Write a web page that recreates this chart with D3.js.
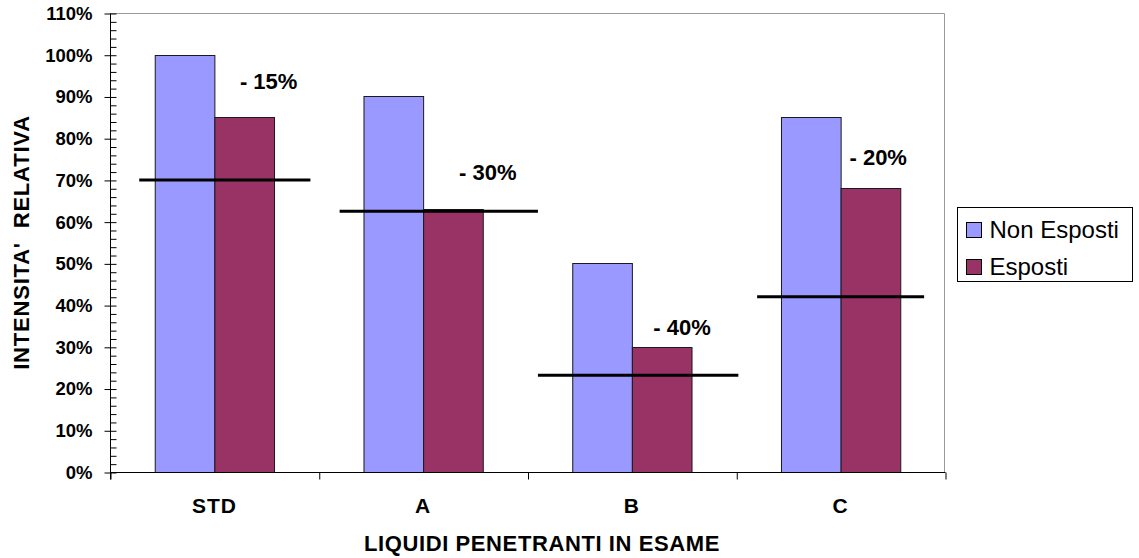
<!DOCTYPE html>
<html>
<head>
<meta charset="utf-8">
<script src="https://cdn.jsdelivr.net/npm/d3@7"></script>
<style>
  html, body { margin: 0; padding: 0; background: #fff; }
  svg { display: block; font-family: "Liberation Sans", Arial, sans-serif; }
</style>
</head>
<body>
<svg id="chart" width="1139" height="558"></svg>
<script>
// Liquidi penetranti: intensità relativa prima e dopo l'esposizione
const categories = ["STD", "A", "B", "C"];
const seriesNames = ["Non Esposti", "Esposti"];
const nonEsposti = [100, 90, 50, 85];
const esposti = [85, 63, 30, 68];
// soglie orizzontali per ciascun liquido (% intensità)
const soglie = [70, 62.5, 23.2, 42];
// estensione delle soglie, in frazioni della categoria
const sogliaInizio = [0.14, 0.10, 0.05, 0.10];
const sogliaFine = [0.96, 1.05, 1.01, 0.90];
// riduzioni percentuali annotate
const riduzioni = ["- 15%", "- 30%", "- 40%", "- 20%"];
const notaX = [0.76, 0.81, 0.74, 0.68];   // frazione della categoria
const notaY = [91.8, 70, 32.8, 73.6];     // livello in %
const yTicks = d3.range(0, 111, 10);
const yMinorTicks = d3.range(0, 111, 2);
const colors = ["#9999FF", "#993366"];

const svg = d3.select("#chart");
const plot = { left: 110, right: 945, top: 13, bottom: 472 };

const x = d3.scaleBand().domain(categories).range([plot.left, plot.right]);
const xSub = d3.scaleBand().domain(seriesNames).range([0, x.bandwidth()])
  .paddingInner(0).paddingOuter(0.75);
const xIdx = d3.scaleLinear().domain([0, categories.length]).range([plot.left, plot.right]);
const y = d3.scaleLinear().domain([0, 110]).range([plot.bottom, plot.top]);

// bordo dell'area del grafico (alto e destra)
svg.append("path")
  .attr("d", `M${plot.left},${plot.top + 0.5}H${plot.right - 0.5}V${plot.bottom}`)
  .attr("fill", "none").attr("stroke", "#999").attr("stroke-width", 1);

// barre
const data = categories.map((c, i) => ({ cat: c, vals: [nonEsposti[i], esposti[i]] }));
const groups = svg.append("g").selectAll("g").data(data).join("g")
  .attr("transform", d => `translate(${x(d.cat)},0)`);
groups.selectAll("rect")
  .data(d => d.vals.map((v, k) => ({ s: seriesNames[k], v, k })))
  .join("rect")
  .attr("x", d => xSub(d.s) + 0.5)
  .attr("y", d => Math.round(y(d.v)) + 0.5)
  .attr("width", xSub.bandwidth())
  .attr("height", d => Math.round(y(0)) - Math.round(y(d.v)))
  .attr("fill", d => colors[d.k])
  .attr("stroke", "#1a1a1a").attr("stroke-width", 1);

// asse Y: tacche secondarie (interne) e principali (incrociate)
svg.append("g").attr("transform", `translate(${plot.left + 0.5},0.5)`)
  .call(d3.axisLeft(y).tickValues(yMinorTicks).tickSize(-6).tickFormat(""))
  .call(g => g.select(".domain").remove())
  .call(g => g.selectAll("line").attr("stroke", "#000"));
svg.append("g").attr("transform", `translate(${plot.left + 0.5},0.5)`)
  .call(d3.axisLeft(y).tickValues(yTicks).tickSize(6).tickPadding(12).tickFormat(d => d + "%"))
  .call(g => g.select(".domain").attr("d", `M0,${plot.top}V${plot.bottom + 7}`).attr("stroke", "#000"))
  .call(g => g.selectAll("line").attr("stroke", "#000"))
  .call(g => g.selectAll("text")
    .attr("font-size", 18.5).attr("font-weight", "bold").attr("fill", "#000")
    .attr("font-family", "Liberation Sans, Arial, sans-serif"));

// asse X
svg.append("g").attr("transform", `translate(0.5,${plot.bottom + 0.5})`)
  .call(d3.axisBottom(xIdx).tickValues(d3.range(0, categories.length + 1)).tickSize(7).tickFormat(""))
  .call(g => g.select(".domain").attr("d", `M${plot.left},0H${plot.right}`).attr("stroke", "#000"))
  .call(g => g.selectAll("line").attr("stroke", "#000"));

svg.append("g").selectAll("text").data(categories).join("text")
  .attr("x", d => x(d) + x.bandwidth() / 2)
  .attr("y", 513)
  .attr("text-anchor", "middle")
  .attr("font-size", 21).attr("font-weight", "bold")
  .attr("letter-spacing", 1)
  .text(d => d);

// soglie orizzontali
svg.append("g").selectAll("line").data(soglie).join("line")
  .attr("x1", (d, i) => x(categories[i]) + sogliaInizio[i] * x.bandwidth())
  .attr("x2", (d, i) => x(categories[i]) + sogliaFine[i] * x.bandwidth())
  .attr("y1", d => y(d)).attr("y2", d => y(d))
  .attr("stroke", "#000").attr("stroke-width", 3);

// annotazioni delle riduzioni
svg.append("g").selectAll("text").data(riduzioni).join("text")
  .attr("x", (d, i) => x(categories[i]) + notaX[i] * x.bandwidth())
  .attr("y", (d, i) => y(notaY[i]))
  .attr("text-anchor", "middle")
  .attr("font-size", 22).attr("font-weight", "bold")
  .text(d => d);

// titoli degli assi
svg.append("text")
  .attr("x", 542).attr("y", 551)
  .attr("text-anchor", "middle")
  .attr("font-size", 22).attr("font-weight", "bold")
  .attr("letter-spacing", 0.6)
  .text("LIQUIDI PENETRANTI IN ESAME");
svg.append("text")
  .attr("transform", `translate(29,${(plot.top + plot.bottom) / 2}) rotate(-90)`)
  .attr("text-anchor", "middle")
  .attr("font-size", 22).attr("font-weight", "bold")
  .attr("letter-spacing", 0.8)
  .attr("xml:space", "preserve")
  .text("INTENSITA'  RELATIVA");

// legenda
const legend = svg.append("g").attr("transform", "translate(957.5,207.5)");
legend.append("rect").attr("width", 175).attr("height", 74)
  .attr("fill", "#fff").attr("stroke", "#000").attr("stroke-width", 1);
const items = legend.selectAll("g.item").data(seriesNames).join("g")
  .attr("class", "item")
  .attr("transform", (d, i) => `translate(9,${15 + i * 37})`);
items.append("rect").attr("width", 15).attr("height", 15)
  .attr("fill", (d, i) => colors[i]).attr("stroke", "#000");
items.append("text").attr("x", 23).attr("y", 15)
  .attr("font-size", 24)
  .text(d => d);
</script>
</body>
</html>
